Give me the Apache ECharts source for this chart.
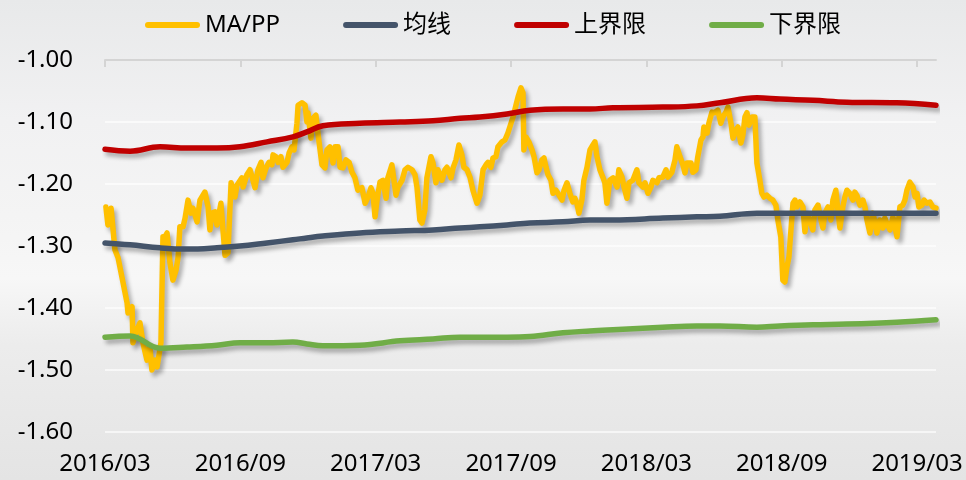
<!DOCTYPE html>
<html>
<head>
<meta charset="utf-8">
<script src="https://cdn.jsdelivr.net/npm/echarts@6/dist/echarts.min.js"></script>
<style>
html,body{margin:0;padding:0;}
#c{width:966px;height:480px;}
</style>
</head>
<body>
<div id="c"></div>
<script>
// x values are months elapsed since 2016/03
var xTickLabels = ['2016/03','2016/09','2017/03','2017/09','2018/03','2018/09','2019/03'];
var seriesNames = ['MA/PP','均线','上界限','下界限'];

var maMonths = [0.04,0.13,0.27,0.35,0.44,0.58,0.98,1.02,1.20,1.24,1.42,1.55,1.68,1.86,1.99,2.08,2.22,2.31,2.39,2.48,
2.57,2.66,2.75,2.88,3.01,3.15,3.24,3.32,3.46,3.55,3.68,3.81,3.90,4.08,4.21,4.43,4.57,4.65,4.74,4.88,
4.96,5.14,5.23,5.32,5.45,5.59,5.67,5.76,5.85,6.07,6.12,6.29,6.43,6.56,6.65,6.78,6.92,7.00,7.14,7.27,
7.40,7.45,7.58,7.67,7.80,7.89,8.07,8.16,8.29,8.38,8.51,8.56,8.73,8.87,8.95,9.00,9.13,9.22,9.35,9.44,
9.62,9.75,9.84,9.97,10.11,10.20,10.33,10.42,10.55,10.68,10.82,10.95,11.08,11.21,11.39,11.53,11.66,11.79,11.88,11.97,
12.06,12.19,12.32,12.46,12.54,12.72,12.81,12.90,12.99,13.17,13.30,13.43,13.61,13.74,13.83,13.96,14.05,14.18,14.27,14.45,
14.54,14.67,14.76,14.94,15.07,15.16,15.34,15.43,15.56,15.69,15.82,15.91,16.05,16.18,16.31,16.49,16.62,16.76,16.89,16.98,
17.11,17.20,17.33,17.42,17.60,17.73,17.86,18.00,18.09,18.22,18.31,18.44,18.53,18.57,18.66,18.79,18.93,19.02,19.15,19.24,
19.37,19.46,19.55,19.64,19.77,19.86,19.99,20.08,20.26,20.35,20.48,20.61,20.74,20.83,20.92,21.01,21.14,21.23,21.37,21.50,
21.63,21.72,21.81,21.94,22.07,22.16,22.25,22.38,22.52,22.70,22.78,22.92,23.01,23.14,23.23,23.40,23.58,23.67,23.85,23.94,
24.07,24.20,24.29,24.47,24.56,24.73,24.87,24.96,25.13,25.27,25.35,25.49,25.62,25.71,25.80,25.98,26.06,26.20,26.28,26.42,
26.51,26.55,26.69,26.77,26.91,27.04,27.17,27.30,27.39,27.53,27.62,27.75,27.84,27.97,28.06,28.19,28.28,28.37,28.46,28.55,
28.68,28.81,28.90,29.03,29.12,29.21,29.34,29.48,29.61,29.74,29.83,29.96,30.05,30.14,30.23,30.32,30.41,30.50,30.59,30.67,
30.81,30.94,31.03,31.12,31.25,31.38,31.47,31.61,31.74,31.83,31.91,32.05,32.18,32.27,32.40,32.49,32.58,32.71,32.80,32.89,
33.02,33.16,33.24,33.33,33.47,33.60,33.69,33.78,33.91,34.04,34.13,34.22,34.35,34.49,34.57,34.66,34.80,34.93,35.02,35.11,
35.24,35.37,35.46,35.55,35.68,35.82,35.91,36.00,36.08,36.22,36.31,36.44,36.57,36.70,36.84];

var maValues = [-1.237,-1.266,-1.239,-1.242,-1.306,-1.319,-1.392,-1.408,-1.398,-1.456,-1.435,-1.424,-1.456,-1.484,-1.463,-1.500,-1.484,-1.495,-1.495,-1.456,
-1.285,-1.285,-1.279,-1.327,-1.355,-1.339,-1.318,-1.269,-1.269,-1.255,-1.226,-1.247,-1.239,-1.261,-1.226,-1.213,-1.237,-1.274,-1.247,-1.245,
-1.266,-1.231,-1.274,-1.315,-1.311,-1.198,-1.197,-1.221,-1.202,-1.190,-1.205,-1.185,-1.177,-1.194,-1.206,-1.177,-1.165,-1.190,-1.174,-1.165,
-1.169,-1.153,-1.156,-1.165,-1.156,-1.173,-1.165,-1.150,-1.140,-1.145,-1.102,-1.073,-1.069,-1.073,-1.100,-1.085,-1.126,-1.094,-1.089,-1.118,
-1.169,-1.174,-1.145,-1.140,-1.166,-1.140,-1.140,-1.173,-1.174,-1.161,-1.165,-1.181,-1.190,-1.210,-1.206,-1.231,-1.221,-1.206,-1.215,-1.253,
-1.226,-1.197,-1.194,-1.223,-1.190,-1.169,-1.194,-1.218,-1.205,-1.194,-1.177,-1.173,-1.177,-1.185,-1.205,-1.258,-1.263,-1.242,-1.190,-1.156,
-1.166,-1.198,-1.177,-1.194,-1.177,-1.173,-1.190,-1.174,-1.161,-1.137,-1.153,-1.173,-1.177,-1.189,-1.210,-1.231,-1.218,-1.177,-1.169,-1.165,
-1.173,-1.158,-1.156,-1.140,-1.132,-1.129,-1.118,-1.102,-1.092,-1.073,-1.060,-1.045,-1.053,-1.145,-1.124,-1.132,-1.145,-1.156,-1.182,-1.177,
-1.161,-1.158,-1.173,-1.185,-1.194,-1.215,-1.210,-1.215,-1.226,-1.210,-1.198,-1.215,-1.229,-1.223,-1.231,-1.247,-1.226,-1.194,-1.173,-1.145,
-1.137,-1.132,-1.156,-1.177,-1.189,-1.198,-1.231,-1.194,-1.190,-1.205,-1.177,-1.189,-1.205,-1.223,-1.198,-1.194,-1.177,-1.198,-1.205,-1.198,
-1.215,-1.205,-1.194,-1.198,-1.190,-1.189,-1.177,-1.189,-1.181,-1.161,-1.140,-1.156,-1.169,-1.182,-1.166,-1.166,-1.181,-1.177,-1.156,-1.129,
-1.124,-1.108,-1.118,-1.102,-1.084,-1.085,-1.081,-1.102,-1.092,-1.084,-1.076,-1.102,-1.126,-1.113,-1.108,-1.134,-1.121,-1.092,-1.085,-1.105,
-1.092,-1.092,-1.166,-1.194,-1.215,-1.221,-1.218,-1.223,-1.226,-1.234,-1.258,-1.285,-1.355,-1.358,-1.334,-1.318,-1.274,-1.231,-1.226,-1.237,
-1.229,-1.237,-1.277,-1.250,-1.258,-1.274,-1.242,-1.234,-1.258,-1.271,-1.247,-1.237,-1.258,-1.226,-1.210,-1.242,-1.271,-1.237,-1.221,-1.210,
-1.215,-1.226,-1.213,-1.218,-1.234,-1.226,-1.237,-1.258,-1.279,-1.247,-1.261,-1.279,-1.258,-1.271,-1.255,-1.263,-1.274,-1.253,-1.269,-1.285,
-1.237,-1.234,-1.226,-1.210,-1.197,-1.205,-1.221,-1.215,-1.237,-1.234,-1.226,-1.231,-1.229,-1.237,-1.239];

var bandMonths = [0,1.11,2.44,3.63,4.96,5.98,7.18,8.33,8.95,9.66,11.30,13.08,14.54,15.74,16.62,17.82,18.84,20.30,21.50,22.52,
24.73,26.24,27.26,28.90,29.92,31.38,32.89,35.11,36.84];
var meanValues = [-1.295,-1.298,-1.303,-1.305,-1.303,-1.300,-1.295,-1.290,-1.287,-1.284,-1.279,-1.276,-1.274,-1.271,-1.269,-1.266,-1.263,-1.261,-1.258,-1.258,
-1.255,-1.253,-1.252,-1.247,-1.247,-1.247,-1.247,-1.247,-1.247];
var upperValues = [-1.144,-1.147,-1.140,-1.142,-1.142,-1.140,-1.132,-1.124,-1.116,-1.106,-1.102,-1.100,-1.098,-1.094,-1.092,-1.087,-1.081,-1.079,-1.079,-1.077,
-1.076,-1.074,-1.069,-1.061,-1.063,-1.065,-1.068,-1.069,-1.073];
var lowerValues = [-1.447,-1.445,-1.465,-1.463,-1.460,-1.456,-1.456,-1.455,-1.458,-1.461,-1.460,-1.453,-1.450,-1.447,-1.447,-1.447,-1.446,-1.440,-1.437,-1.435,
-1.431,-1.429,-1.429,-1.431,-1.429,-1.427,-1.426,-1.423,-1.419];

function zip(xs, ys){ return xs.map(function(x,i){ return [x, ys[i]]; }); }

var tickVals = xTickLabels.map(function(_, i){ return i*6; });
var fontFam = "'Noto Sans','Noto Sans CJK SC',sans-serif";
var shadow = {shadowColor:'rgba(0,0,0,0.3)', shadowBlur:4, shadowOffsetX:3, shadowOffsetY:4};
var legendIcon = 'path://M3,0 L52,0 A3,3 0 0 1 52,6 L3,6 A3,3 0 0 1 3,0 Z';

function lineSeries(name, data, color, smooth, z){
  return {
    name: name, type: 'line', data: data, smooth: smooth,
    symbol: 'none', showSymbol: false, z: z,
    xAxisIndex: 0, yAxisIndex: 0,
    lineStyle: Object.assign({color: color, width: 5.5, cap: 'round', join: 'round'}, shadow),
    itemStyle: {color: color},
    emphasis: {disabled: true},
    animation: false
  };
}

var chart = echarts.init(document.getElementById('c'), null, {renderer: 'canvas'});
chart.setOption({
  backgroundColor: {
    type: 'linear', x: 0, y: 0, x2: 0, y2: 1,
    colorStops: [
      {offset: 0, color: '#e8e9ea'},
      {offset: 0.25, color: '#f1f1f2'},
      {offset: 0.45, color: '#f4f4f4'},
      {offset: 0.58, color: '#f7f7f7'},
      {offset: 0.72, color: '#ececec'},
      {offset: 1, color: '#e4e4e4'}
    ]
  },
  animation: false,
  textStyle: {fontFamily: fontFam},
  legend: {
    data: seriesNames.map(function(n){ return {name: n, icon: legendIcon}; }),
    left: 140, top: 8,
    itemWidth: 55, itemHeight: 6, itemGap: 63,
    textStyle: {fontSize: 24, color: '#000', fontFamily: fontFam},
    selectedMode: false
  },
  grid: {left: 105, right: 30, top: 60, bottom: 48, containLabel: false},
  xAxis: [{
    type: 'value', position: 'bottom', min: 0, max: 36.84, interval: 6,
    axisLine: {show: false}, axisTick: {show: false}, splitLine: {show: false},
    axisLabel: {
      show: true, customValues: tickVals, margin: 20, fontSize: 24, color: '#000', fontFamily: fontFam,
      formatter: function(v){ var i = Math.round(v/6); return (Math.abs(v - i*6) < 1e-6 && xTickLabels[i]) ? xTickLabels[i] : ''; }
    }
  },{
    type: 'value', position: 'top', min: 0, max: 36.84, interval: 6,
    axisLine: {show: true, onZero: false, lineStyle: {color: '#d4d4d4', width: 2}},
    axisTick: {show: true, inside: true, length: 7, customValues: tickVals, lineStyle: {color: '#d4d4d4', width: 2}},
    axisLabel: {show: false}, splitLine: {show: false}
  }],
  yAxis: {
    type: 'value', min: -1.6, max: -1.0, interval: 0.1,
    axisLine: {show: false}, axisTick: {show: false},
    axisLabel: {margin: 32, fontSize: 24, color: '#000', fontFamily: fontFam,
      formatter: function(v){ return v.toFixed(2); }},
    splitLine: {show: true, lineStyle: {color: 'rgba(255,255,255,0.85)', width: 1.5}}
  },
  series: [
    lineSeries(seriesNames[0], zip(maMonths, maValues), '#FFC000', false, 2),
    lineSeries(seriesNames[1], zip(bandMonths, meanValues), '#44546A', 0.4, 3),
    lineSeries(seriesNames[2], zip(bandMonths, upperValues), '#C00000', 0.4, 3),
    lineSeries(seriesNames[3], zip(bandMonths, lowerValues), '#70AD47', 0.4, 3)
  ]
});
</script>
</body>
</html>
